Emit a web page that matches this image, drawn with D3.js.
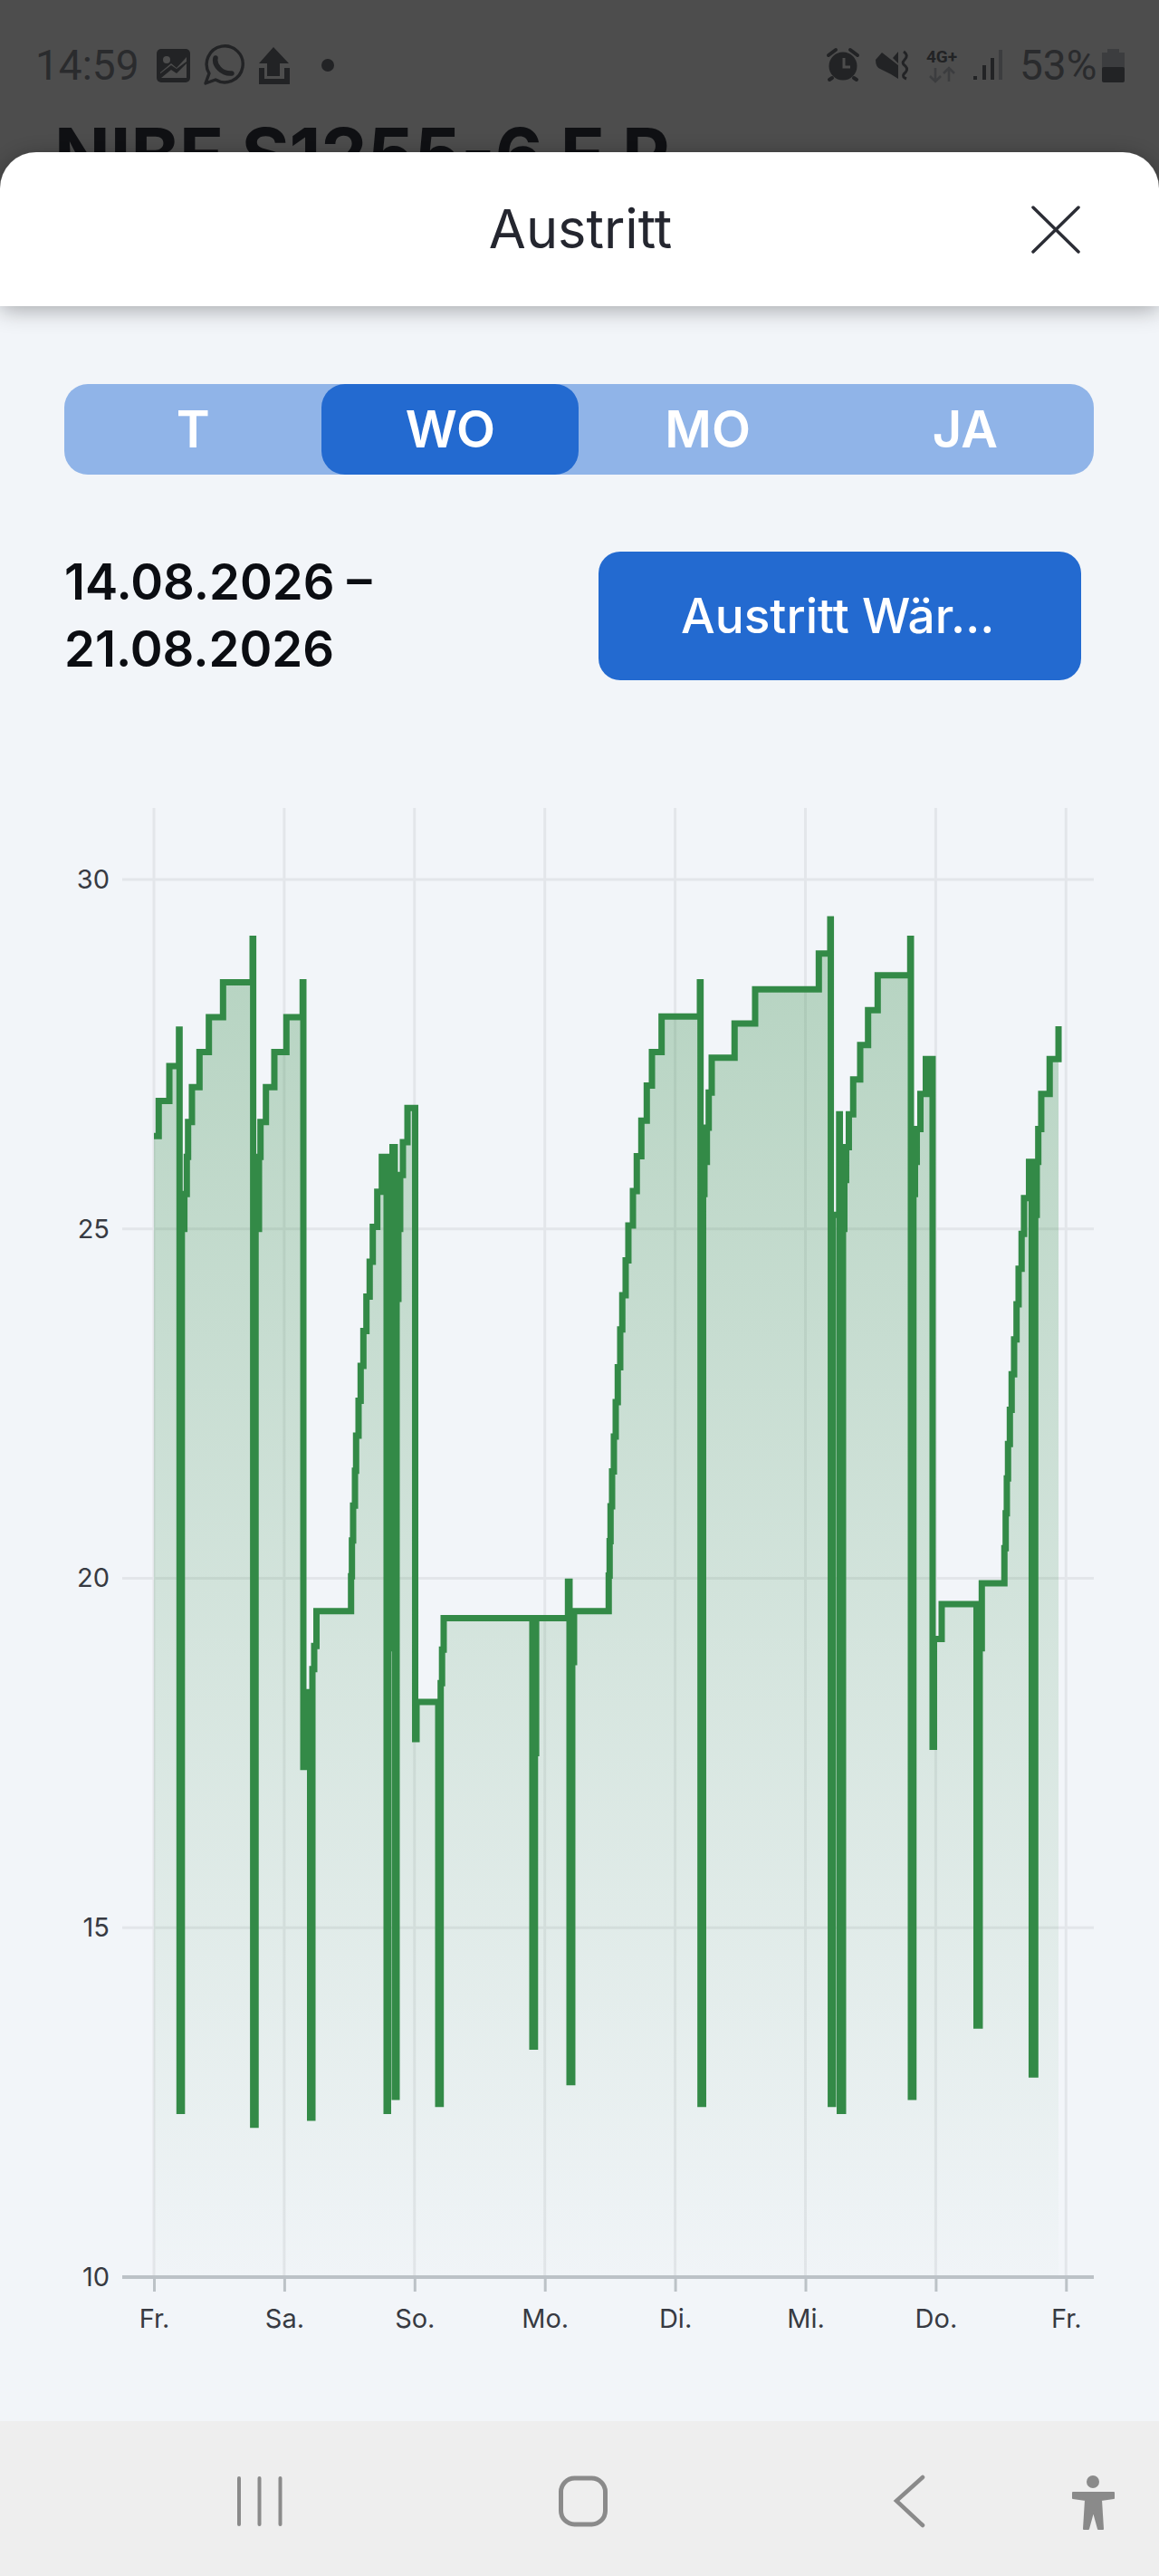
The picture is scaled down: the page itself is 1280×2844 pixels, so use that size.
<!DOCTYPE html>
<html lang="de">
<head>
<meta charset="utf-8">
<title>Austritt</title>
<script src="https://cdn.jsdelivr.net/npm/d3@7"></script>
<style>
	html, body { margin: 0; padding: 0; background: #f2f5f9; }
	svg { display: block; font-family: Inter, sans-serif; }
	.domain { display: none; }
</style>
</head>
<body>
<script>
// * Data

const dayLabels = ["Fr.", "Sa.", "So.", "Mo.", "Di.", "Mi.", "Do.", "Fr."];
const dayHours = [0, 24, 48, 72, 96, 120, 144, 168];
const tempTicks = [10, 15, 20, 25, 30];

// hours since the first Friday tick
const hours = [
	0, 0.88, 2.84, 4.62, 4.72, 5.14, 5.6, 6.05, 6.29, 7, 8.39, 10.12, 12.73,
	18.18, 18.28, 18.72, 19.35, 19.63, 20.63, 22.18, 24.4, 27.4,
	27.52, 28.1, 28.77, 29.19, 29.52, 29.94,
	36.31, 36.47, 36.69, 37.03, 37.24, 37.69, 38.08, 38.58, 39.14, 39.74, 40.31, 41.14, 41.98,
	42.86, 43.11, 43.4, 43.7, 43.95, 44.36, 44.7, 45.03, 45.36, 45.86, 46.7,
	48.12, 48.37, 52.37, 52.82, 53.07, 53.37, 69.71, 70.18, 70.4,
	76.27, 76.55, 77.05, 77.38,
	83.77, 83.94, 84.11, 84.39, 84.72, 85.06, 85.44, 85.89, 86.27, 86.89, 87.39, 88.23, 88.94,
	89.78, 90.78, 91.73, 93.51, 100.57,
	100.68, 101.15, 101.4, 101.85, 102.19, 102.74, 106.95, 110.74, 122.47, 124.58,
	124.68, 125.08, 126.22, 126.34, 126.92, 127.17, 127.5, 128, 128.8, 130.09, 131.54, 133.31, 139.31,
	139.43, 139.89, 140.18, 140.51, 141.18, 142.18, 142.68, 143.01,
	143.43, 143.68, 145.1, 151.52, 152.1, 152.49,
	156.65, 156.89, 157.1, 157.32, 157.66, 157.99, 158.44, 158.89, 159.27, 159.82, 160.27, 161.19,
	161.69, 162.33, 162.61, 162.89, 163.44, 164.99, 166.62,
];

// outlet temperature in degrees
const temps = [
	26.33, 26.83, 27.33, 27.85, 12.38, 25, 25.5, 26.03, 26.53, 27.03, 27.53, 28.03, 28.53,
	29.15, 12.18, 25, 26.03, 26.53, 27.03, 27.53, 28.03, 28.53,
	17.3, 18.37, 12.28, 18.7, 19.03, 19.53,
	20.03, 20.54, 21.04, 21.54, 22.04, 22.54, 23.04, 23.54, 24.03, 24.53, 25.03, 25.53, 26.03,
	12.38, 19, 24, 25.5, 26.17, 12.58, 24, 25, 25.77, 26.24, 26.73,
	17.7, 18.23, 12.48, 18.5, 18.98, 19.43, 13.3, 17.5, 19.43,
	19.95, 12.79, 18.8, 19.53,
	20.04, 20.53, 21.03, 21.53, 22.03, 22.52, 23.02, 23.56, 24.05, 24.55, 25.05, 25.54, 26.04,
	26.55, 27.05, 27.53, 28.04, 28.53,
	12.48, 25.5, 25.96, 26.45, 26.95, 27.45, 27.94, 28.43, 28.94, 29.43,
	12.48, 25.2, 26.64, 12.38, 25, 25.7, 26.17, 26.64, 27.14, 27.63, 28.13, 28.63, 29.15,
	12.58, 25.5, 25.96, 26.43, 26.93, 27.43, 26.93, 27.43,
	17.59, 19.13, 19.63, 13.6, 19, 19.93,
	20.43, 20.93, 21.43, 21.92, 22.41, 22.92, 23.42, 23.92, 24.43, 24.93, 25.44, 25.96,
	12.9, 25.2, 25.96, 26.43, 26.93, 27.43, 27.9,
];

const tabs = ["T", "WO", "MO", "JA"];

// * Size & Margins

let width = 1280;
let height = 2844;

const green = "#338a47";
const blue = "#236ad0";

// * SVG CANVAS
const svg = d3
	.select("body")
	.append("svg")
	.attr("width", width)
	.attr("height", height)
	.attr("viewBox", [0, 0, width, height]);

const defs = svg.append("defs");

defs.append("filter")
	.attr("id", "sheetShadow")
	.attr("x", "-5%")
	.attr("y", "-30%")
	.attr("width", "110%")
	.attr("height", "170%")
	.append("feDropShadow")
	.attr("dx", 0)
	.attr("dy", 4)
	.attr("stdDeviation", 12)
	.attr("flood-color", "#000")
	.attr("flood-opacity", 0.32);

const gradient = defs
	.append("linearGradient")
	.attr("id", "areaFill")
	.attr("gradientUnits", "userSpaceOnUse")
	.attr("x1", 0)
	.attr("x2", 0)
	.attr("y1", 1020)
	.attr("y2", 2514);
gradient.append("stop").attr("offset", 0).attr("stop-color", green).attr("stop-opacity", 0.32);
gradient.append("stop").attr("offset", 1).attr("stop-color", green).attr("stop-opacity", 0.01);

// * Backgrounds
svg.append("rect").attr("width", width).attr("height", height).attr("fill", "#f2f5f9");
svg.append("rect").attr("width", width).attr("height", 260).attr("fill", "#4d4d4d");

// * Status bar, dimmed behind the sheet
const dark = "#222325";
svg.append("text")
	.attr("x", 39)
	.attr("y", 88)
	.attr("font-family", "Roboto")
	.attr("font-weight", 400)
	.attr("font-size", 46)
	.attr("fill", "#2a2b2d")
	.text("14:59");

// picture icon
svg.append("rect").attr("x", 173).attr("y", 54).attr("width", 37).attr("height", 37).attr("rx", 5).attr("fill", dark);
svg.append("circle").attr("cx", 184).attr("cy", 66).attr("r", 4).attr("fill", "#4d4d4d");
svg.append("path").attr("d", "M177 86V80L189 70L195 75L206 63V86Z").attr("fill", "#4d4d4d");
svg.append("path").attr("d", "M178 86L189 77L195 81L206 70V68L195 76L189 72L176 82V86Z").attr("fill", dark);

// whatsapp icon
svg.append("path")
	.attr("d", "M227 92L231 81A20 20 0 1 1 238 88Z")
	.attr("fill", "none")
	.attr("stroke", dark)
	.attr("stroke-width", 3.4)
	.attr("stroke-linejoin", "round");
svg.append("path")
	.attr("d", "M238 64C236 72 245 82 256 81")
	.attr("fill", "none")
	.attr("stroke", dark)
	.attr("stroke-width", 5.5)
	.attr("stroke-linecap", "round");

// upload icon
svg.append("path").attr("d", "M302 52L319 70H309V84H295V70H286Z").attr("fill", dark);
svg.append("path")
	.attr("d", "M289 75V90H317V75")
	.attr("fill", "none")
	.attr("stroke", dark)
	.attr("stroke-width", 6);
svg.append("circle").attr("cx", 362).attr("cy", 72).attr("r", 7).attr("fill", dark);

// alarm icon
svg.append("circle").attr("cx", 931).attr("cy", 73).attr("r", 15.5).attr("fill", dark);
svg.append("path")
	.attr("d", "M915 61L923 55M947 61L939 55M919 86L916 88M943 86L946 88")
	.attr("stroke", dark)
	.attr("stroke-width", 4)
	.attr("stroke-linecap", "round");
svg.append("path")
	.attr("d", "M932 64V74H939")
	.attr("fill", "none")
	.attr("stroke", "#4d4d4d")
	.attr("stroke-width", 3);

// mute icon
svg.append("path").attr("d", "M967 66L974 58L992 72V87L984 82L972 76Q967 74 967 66Z").attr("fill", dark);
svg.append("path").attr("d", "M986 64L992 57V70Z").attr("fill", dark);
svg.append("path")
	.attr("d", "M998 57Q1004 61 999 66Q995 70 1000 73Q1004 77 998 82Q996 85 1001 87")
	.attr("fill", "none")
	.attr("stroke", dark)
	.attr("stroke-width", 3);

// network icons
svg.append("text")
	.attr("x", 1040)
	.attr("y", 69)
	.attr("text-anchor", "middle")
	.attr("font-family", "Roboto")
	.attr("font-weight", 700)
	.attr("font-size", 19)
	.attr("fill", dark)
	.text("4G+");
svg.append("path")
	.attr("d", "M1033 75V90M1027 84L1033 90L1039 84M1048 90V75M1042 81L1048 75L1054 81")
	.attr("fill", "none")
	.attr("stroke", "#3c3d3f")
	.attr("stroke-width", 2.6);

// signal bars
svg.append("path")
	.attr("d", "M1077 84V88M1087 72V88M1096 64V88")
	.attr("stroke", dark)
	.attr("stroke-width", 4);
svg.append("path").attr("d", "M1105 55V88").attr("stroke", "#3c3d3f").attr("stroke-width", 4);

svg.append("text")
	.attr("x", 1126)
	.attr("y", 88)
	.attr("font-family", "Roboto")
	.attr("font-weight", 400)
	.attr("font-size", 46)
	.attr("fill", "#2a2b2d")
	.text("53%");

// battery icon
svg.append("path").attr("d", "M1223 58V54H1236V58H1242V90H1217V58Z").attr("fill", "#3c3d3f");
svg.append("rect").attr("x", 1217).attr("y", 74).attr("width", 25).attr("height", 17).attr("rx", 2).attr("fill", dark);

// page title cut off by the sheet
svg.append("text")
	.attr("x", 60)
	.attr("y", 200)
	.attr("font-weight", 700)
	.attr("font-size", 81)
	.attr("fill", "#0f1013")
	.text("NIBE S1255-6 E P");

// * Sheet header
svg.append("path")
	.attr("d", "M0 338V208A40 40 0 0 1 40 168H1240A40 40 0 0 1 1280 208V338Z")
	.attr("fill", "#fff")
	.attr("filter", "url(#sheetShadow)");

svg.append("text")
	.attr("x", 641)
	.attr("y", 274)
	.attr("text-anchor", "middle")
	.attr("font-size", 59.5)
	.attr("font-weight", 400)
	.attr("fill", "#24262f")
	.text("Austritt");

svg.append("path")
	.attr("d", "M1141 229L1191 278M1191 229L1141 278")
	.attr("stroke", "#2b2d35")
	.attr("stroke-width", 3.5)
	.attr("stroke-linecap", "round");

// * Segmented control
svg.append("rect")
	.attr("x", 71)
	.attr("y", 424)
	.attr("width", 1137)
	.attr("height", 100)
	.attr("rx", 26)
	.attr("fill", "#90b4e8");
svg.append("rect")
	.attr("x", 355)
	.attr("y", 424)
	.attr("width", 284)
	.attr("height", 100)
	.attr("rx", 26)
	.attr("fill", blue);

const tabScale = d3.scaleBand().domain(tabs).range([71, 1208]);
svg.selectAll(".tab")
	.data(tabs)
	.join("text")
	.attr("class", "tab")
	.attr("x", (d) => tabScale(d) + tabScale.bandwidth() / 2)
	.attr("y", 494)
	.attr("text-anchor", "middle")
	.attr("font-size", 56)
	.attr("font-weight", 600)
	.attr("fill", "#fff")
	.text((d) => d);

// * Date range and selector
svg.append("text")
	.attr("x", 71)
	.attr("y", 662)
	.attr("font-size", 54.4)
	.attr("font-weight", 600)
	.attr("fill", "#0b0d12")
	.text("14.08.2026 –");
svg.append("text")
	.attr("x", 71)
	.attr("y", 736)
	.attr("font-size", 54.4)
	.attr("font-weight", 600)
	.attr("fill", "#0b0d12")
	.text("21.08.2026");

svg.append("rect")
	.attr("x", 661)
	.attr("y", 609)
	.attr("width", 533)
	.attr("height", 142)
	.attr("rx", 24)
	.attr("fill", blue);
svg.append("text")
	.attr("x", 752)
	.attr("y", 699)
	.attr("font-size", 53.2)
	.attr("font-weight", 500)
	.attr("fill", "#fff")
	.text("Austritt Wär…");

// * Scales
const xScale = d3.scaleLinear().domain([0, 168]).range([170, 1177.3]);
const yScale = d3.scaleLinear().domain([10, 30]).range([2514, 971]);

// * Grid
const gridColor = "#e3e6ea";
svg.append("g")
	.selectAll("line")
	.data(dayHours)
	.join("line")
	.attr("x1", (d) => xScale(d))
	.attr("x2", (d) => xScale(d))
	.attr("y1", 892)
	.attr("y2", 2514)
	.attr("stroke", gridColor)
	.attr("stroke-width", 3);

svg.append("g")
	.selectAll("line")
	.data(tempTicks.slice(1))
	.join("line")
	.attr("x1", 135)
	.attr("x2", 1208)
	.attr("y1", (d) => yScale(d))
	.attr("y2", (d) => yScale(d))
	.attr("stroke", gridColor)
	.attr("stroke-width", 3);

// * Area and step line
const points = hours.map((h, i) => ({ h, t: temps[i] }));

const area = d3
	.area()
	.x((d) => xScale(d.h))
	.y0(yScale(10))
	.y1((d) => yScale(d.t))
	.curve(d3.curveStepAfter);

const line = d3
	.line()
	.x((d) => xScale(d.h))
	.y((d) => yScale(d.t))
	.curve(d3.curveStepAfter);

svg.append("path").datum(points).attr("d", area).attr("fill", "url(#areaFill)");

svg.append("path")
	.datum(points)
	.attr("d", line)
	.attr("fill", "none")
	.attr("stroke", green)
	.attr("stroke-width", 7)
	.attr("stroke-linejoin", "miter");

// * Axes
const axisColor = "#bcc2c7";
const labelColor = "#373a42";

const xAxis = svg
	.append("g")
	.attr("transform", `translate(0,${yScale(10)})`)
	.call(
		d3
			.axisBottom(xScale)
			.tickValues(dayHours)
			.tickSize(16)
			.tickPadding(19)
			.tickFormat((d, i) => dayLabels[i])
	);
xAxis.selectAll("line").attr("stroke", axisColor).attr("stroke-width", 3);
xAxis.selectAll("text").attr("font-family", "Inter").attr("font-size", 29).attr("fill", labelColor);

svg.append("line")
	.attr("x1", 135)
	.attr("x2", 1208)
	.attr("y1", yScale(10))
	.attr("y2", yScale(10))
	.attr("stroke", axisColor)
	.attr("stroke-width", 4);

const yAxis = svg
	.append("g")
	.attr("transform", "translate(121,0)")
	.call(d3.axisLeft(yScale).tickValues(tempTicks).tickSize(0).tickPadding(0));
yAxis.selectAll("text").attr("font-family", "Inter").attr("font-size", 29).attr("fill", labelColor);

// * Navigation bar
svg.append("rect").attr("y", 2673).attr("width", width).attr("height", 171).attr("fill", "#eeeeee");

const navColor = "#8a8a8a";
svg.append("path")
	.attr("d", "M264 2736V2787M286.5 2736V2787M309.5 2736V2787")
	.attr("stroke", navColor)
	.attr("stroke-width", 4)
	.attr("stroke-linecap", "round");
svg.append("rect")
	.attr("x", 619.5)
	.attr("y", 2736)
	.attr("width", 49)
	.attr("height", 51)
	.attr("rx", 15)
	.attr("fill", "none")
	.attr("stroke", navColor)
	.attr("stroke-width", 5);
svg.append("path")
	.attr("d", "M1019 2735L990 2761L1019 2788")
	.attr("fill", "none")
	.attr("stroke", navColor)
	.attr("stroke-width", 4.5)
	.attr("stroke-linecap", "round");
svg.append("circle").attr("cx", 1207).attr("cy", 2740).attr("r", 7).attr("fill", navColor);
svg.append("path")
	.attr("d", "M1185 2752H1230V2758L1216 2760L1218 2792H1213L1207.5 2772L1202 2792H1197L1199 2760L1185 2758Z")
	.attr("fill", navColor)
	.attr("stroke", navColor)
	.attr("stroke-width", 2)
	.attr("stroke-linejoin", "round");
</script>
</body>
</html>
